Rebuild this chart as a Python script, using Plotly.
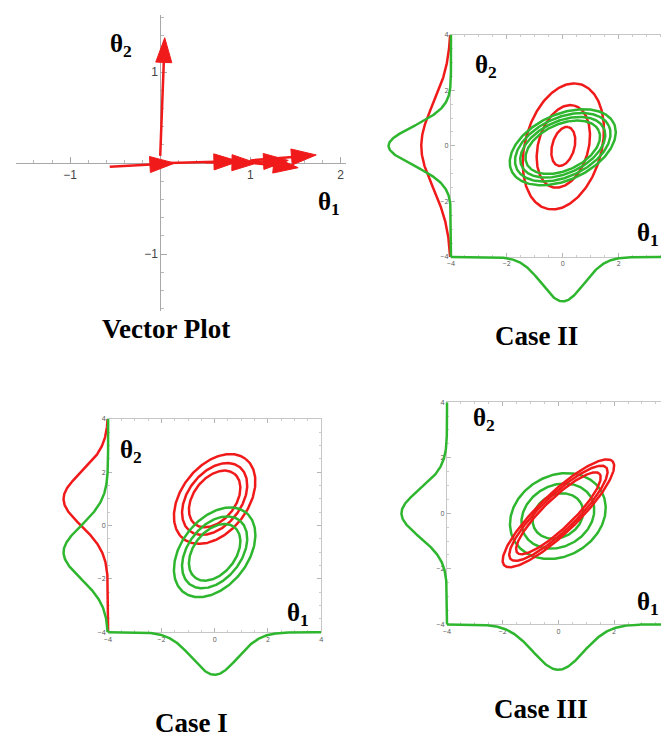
import numpy as np
import plotly.graph_objects as go

# the page body adds an 8px margin, so the figure is shrunk and shifted to compensate
OFF = 8
W, H = 669 - OFF, 741 - OFF
RED = "#f01a1a"
GREEN = "#2fb62f"
SERIF = "Liberation Serif"

# ---------------- Vector plot: arrow tails / heads ----------------
vec_x0 = [0.0, -0.56, 0.0, 0.5, 0.95, 1.05, 1.0]
vec_y0 = [0.08, -0.04, 0.0, 0.01, 0.01, 0.0, 0.03]
vec_x1 = [0.05, 0.16, 0.87, 1.07, 1.42, 1.53, 1.73]
vec_y1 = [1.38, 0.0, 0.02, 0.0, 0.03, -0.05, 0.09]
vec_xticks = [-1, 1, 2]
vec_yticks = [-1, 1]

# ---------------- Contour ellipses (centre, semi-axes per level, tilt deg) ----------------
c2_red_centre = (0.02, -0.02)
c2_red_a = [2.32, 1.52, 0.72]
c2_red_b = [1.37, 0.90, 0.40]
c2_red_tilt = 75
c2_green_centre = (0.0, -0.05)
c2_green_a = [2.02, 1.82, 1.62, 1.42]
c2_green_b = [1.18, 1.06, 0.94, 0.83]
c2_green_tilt = 25

c1_red_centre = (0.0, 1.0)
c1_green_centre = (0.0, -1.0)
c1_a = [1.9, 1.52, 1.2]
c1_b = [1.25, 1.0, 0.79]
c1_tilt = 52

c3_red_centre = (0.0, 0.0)
c3_red_a = [2.7, 2.38, 2.05]
c3_red_b = [0.7, 0.62, 0.53]
c3_red_tilt = 44
c3_green_centre = (-0.02, -0.1)
c3_green_a = [1.8, 1.37, 0.95]
c3_green_b = [1.45, 1.1, 0.77]
c3_green_tilt = 30

# ---------------- Marginal densities: mean, sigma, peak height (px) ----------------
c2_left_mu = {"red": 0.0, "green": 0.0}
c2_left_sig = {"red": 1.5, "green": 0.7}
c2_left_peak = {"red": 30, "green": 63}
c2_bot_mu, c2_bot_sig, c2_bot_peak = 0.0, 0.75, 45

c1_left_mu = {"red": 1.0, "green": -1.0}
c1_left_sig = {"red": 1.0, "green": 1.0}
c1_left_peak = {"red": 45, "green": 45}
c1_bot_mu, c1_bot_sig, c1_bot_peak = 0.0, 0.85, 43

c3_left_mu, c3_left_sig, c3_left_peak = 0.0, 0.85, 46
c3_bot_mu, c3_bot_sig, c3_bot_peak = 0.0, 0.9, 46


def xdom(a, b):
    return [max(0, (a - OFF) / W), min(1, (b - OFF) / W)]


def ydom(top, bottom):
    return [max(0, 1 - (bottom - OFF) / H), min(1, 1 - (top - OFF) / H)]


def ellipse(centre, a, b, tilt):
    t = np.linspace(0, 2 * np.pi, 241)
    th = np.radians(tilt)
    ex, ey = a * np.cos(t), b * np.sin(t)
    return (centre[0] + ex * np.cos(th) - ey * np.sin(th),
            centre[1] + ex * np.sin(th) + ey * np.cos(th))


def bump(mu, sig, peak):
    t = np.linspace(-4, 4, 401)
    return t, peak * np.exp(-(t - mu) ** 2 / (2 * sig ** 2))


fig = go.Figure()


def add_line(x, y, color, xa, ya):
    fig.add_trace(go.Scatter(x=x, y=y, mode="lines", xaxis=xa, yaxis=ya,
                             line=dict(color=color, width=2.5), hoverinfo="skip"))


# ---- vector plot arrows
for x0, y0, x1, y1 in zip(vec_x0, vec_y0, vec_x1, vec_y1):
    fig.add_trace(go.Scatter(
        x=[x0, x1], y=[y0, y1], mode="lines+markers", xaxis="x", yaxis="y",
        line=dict(color=RED, width=2.5),
        marker=dict(symbol=["circle", "arrow"], size=[0, 26], angleref="previous",
                    color=RED, opacity=1, line=dict(width=1, color=RED)),
        hoverinfo="skip"))

# ---- Case II
for a, b in zip(c2_red_a, c2_red_b):
    add_line(*ellipse(c2_red_centre, a, b, c2_red_tilt), RED, "x2", "y2")
for a, b in zip(c2_green_a, c2_green_b):
    add_line(*ellipse(c2_green_centre, a, b, c2_green_tilt), GREEN, "x2", "y2")
for col, c in (("red", RED), ("green", GREEN)):
    t, v = bump(c2_left_mu[col], c2_left_sig[col], c2_left_peak[col])
    add_line(v, t, c, "x3", "y3")
t, v = bump(c2_bot_mu, c2_bot_sig, c2_bot_peak)
add_line(t, v, GREEN, "x4", "y4")

# ---- Case I
for a, b in zip(c1_a, c1_b):
    add_line(*ellipse(c1_red_centre, a, b, c1_tilt), RED, "x5", "y5")
for a, b in zip(c1_a, c1_b):
    add_line(*ellipse(c1_green_centre, a, b, c1_tilt), GREEN, "x5", "y5")
for col, c in (("red", RED), ("green", GREEN)):
    t, v = bump(c1_left_mu[col], c1_left_sig[col], c1_left_peak[col])
    add_line(v, t, c, "x6", "y6")
t, v = bump(c1_bot_mu, c1_bot_sig, c1_bot_peak)
add_line(t, v, GREEN, "x7", "y7")

# ---- Case III
for a, b in zip(c3_green_a, c3_green_b):
    add_line(*ellipse(c3_green_centre, a, b, c3_green_tilt), GREEN, "x8", "y8")
for a, b in zip(c3_red_a, c3_red_b):
    add_line(*ellipse(c3_red_centre, a, b, c3_red_tilt), RED, "x8", "y8")
t, v = bump(c3_left_mu, c3_left_sig, c3_left_peak)
add_line(v, t, GREEN, "x9", "y9")
t, v = bump(c3_bot_mu, c3_bot_sig, c3_bot_peak)
add_line(t, v, GREEN, "x10", "y10")


def frame_axis(dom, rng, anchor):
    return dict(domain=dom, range=rng, anchor=anchor, showline=True, linecolor="#c6c6c6",
                linewidth=1, mirror="ticks", ticks="inside", ticklen=4, tickcolor="#b4b4b4",
                tick0=0, dtick=2, tickfont=dict(size=7, color="#555"), showgrid=False,
                zeroline=False, layer="below traces",
                minor=dict(ticks="inside", ticklen=2, dtick=0.5, tickcolor="#cccccc"))


def hidden_axis(dom, rng, anchor):
    return dict(domain=dom, range=rng, anchor=anchor, visible=False, showgrid=False, zeroline=False)


# vector plot axes cross at the origin
vx_dom, vy_dom = xdom(12, 345), ydom(10, 310)
vx_rng, vy_rng = [-1.6, 2.06], [-1.63, 1.63]
x_origin = vx_dom[0] + (0 - vx_rng[0]) / (vx_rng[1] - vx_rng[0]) * (vx_dom[1] - vx_dom[0])
y_origin = vy_dom[0] + (0 - vy_rng[0]) / (vy_rng[1] - vy_rng[0]) * (vy_dom[1] - vy_dom[0])
vec_axis = dict(showline=True, linecolor="#a8a8a8", linewidth=1, ticks="inside", ticklen=6,
                tickcolor="#a8a8a8", showgrid=False, zeroline=False, layer="below traces",
                tickfont=dict(size=12, color="#444", family="Arial"), tickmode="array",
                minor=dict(ticks="inside", ticklen=3, dtick=0.2, tick0=0, tickcolor="#b8b8b8"))

layout = dict(
    width=W, height=H, margin=dict(l=0, r=0, t=0, b=0), showlegend=False,
    paper_bgcolor="white", plot_bgcolor="rgba(0,0,0,0)",
    xaxis=dict(vec_axis, domain=vx_dom, range=vx_rng, anchor="free", position=y_origin,
               tickvals=vec_xticks),
    yaxis=dict(vec_axis, domain=vy_dom, range=vy_rng, anchor="free", position=x_origin,
               tickvals=vec_yticks),
    # Case II
    xaxis2=frame_axis(xdom(451, 669), [-4, 3.73], "y2"),
    yaxis2=frame_axis(ydom(30, 255), [-4, 4], "x2"),
    xaxis3=hidden_axis(xdom(375, 453), [76, -2], "y3"),
    yaxis3=hidden_axis(ydom(30, 255), [-4, 4], "x3"),
    xaxis4=hidden_axis(xdom(451, 669), [-4, 3.73], "y4"),
    yaxis4=hidden_axis(ydom(253, 312), [57, -2], "x4"),
    # Case I
    xaxis5=frame_axis(xdom(105, 320), [-4, 4], "y5"),
    yaxis5=frame_axis(ydom(419, 635), [-4, 4], "x5"),
    xaxis6=hidden_axis(xdom(45, 107), [60, -2], "y6"),
    yaxis6=hidden_axis(ydom(419, 635), [-4, 4], "x6"),
    xaxis7=hidden_axis(xdom(105, 320), [-4, 4], "y7"),
    yaxis7=hidden_axis(ydom(633, 692), [57, -2], "x7"),
    # Case III
    xaxis8=frame_axis(xdom(447, 669), [-4, 3.9], "y8"),
    yaxis8=frame_axis(ydom(402, 627), [-4, 4], "x8"),
    xaxis9=hidden_axis(xdom(390, 449), [57, -2], "y9"),
    yaxis9=hidden_axis(ydom(402, 627), [-4, 4], "x9"),
    xaxis10=hidden_axis(xdom(447, 669), [-4, 3.9], "y10"),
    yaxis10=hidden_axis(ydom(625, 684), [57, -2], "x10"),
)

# text labels: (text, x px, y px, size) in window pixels
labels = [
    ("θ<sub>2</sub>", 118, 41, 25), ("θ<sub>1</sub>", 328, 201, 25),
    ("θ<sub>2</sub>", 486, 62, 25), ("θ<sub>1</sub>", 650, 232, 25),
    ("θ<sub>2</sub>", 128, 452, 25), ("θ<sub>1</sub>", 297, 617, 25),
    ("θ<sub>2</sub>", 484, 420, 25), ("θ<sub>1</sub>", 650, 606, 25),
    ("Vector Plot", 163, 328, 27), ("Case II", 537, 335, 27),
    ("Case I", 189, 727, 27), ("Case III", 542, 713, 27),
]
layout["annotations"] = [
    dict(text=f"<b>{txt}</b>", x=(px - OFF) / W, y=1 - (py - OFF) / H, xref="paper",
         yref="paper", xanchor="center", yanchor="middle", showarrow=False,
         font=dict(family=SERIF, size=sz, color="black"))
    for txt, px, py, sz in labels
]

fig.update_layout(**layout)
fig.write_html("out.html")
